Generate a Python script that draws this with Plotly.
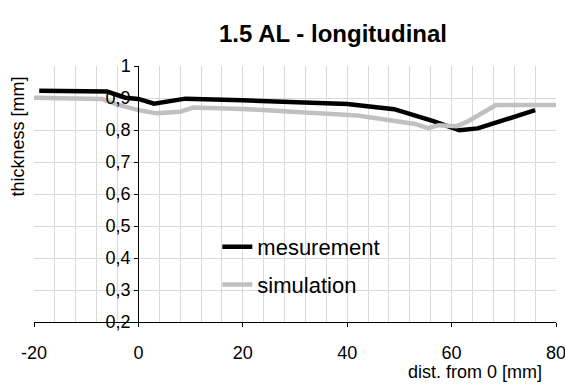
import plotly.graph_objects as go

meas_x = [-19, -6, -2.5, 0, 3, 9, 20, 30, 40, 49, 56.5, 61.5, 65, 76]
meas_y = [0.923, 0.920, 0.901, 0.897, 0.882, 0.898, 0.893, 0.886, 0.881, 0.865, 0.828, 0.799, 0.805, 0.862]

sim_x = [-20, -7, -4, 0, 3.5, 8, 10.5, 20, 32, 42, 53, 55.5, 57.5, 61, 63, 68.5, 80]
sim_y = [0.901, 0.897, 0.879, 0.862, 0.852, 0.857, 0.870, 0.866, 0.855, 0.845, 0.819, 0.806, 0.815, 0.812, 0.826, 0.878, 0.878]

x_ticks = [-20, 0, 20, 40, 60, 80]
x_labels = ["-20", "0", "20", "40", "60", "80"]
y_ticks = [0.2, 0.3, 0.4, 0.5, 0.6, 0.7, 0.8, 0.9, 1.0]
y_labels = ["0,2", "0,3", "0,4", "0,5", "0,6", "0,7", "0,8", "0,9", "1"]

W, H = 565, 389
L, R, T, B = 33.5, 9, 66, 67
pw = W - L - R
ph = H - T - B

FONT = "Liberation Sans, Arial, sans-serif"


def px(xp):
    return (xp - L) / pw


def py(yp):
    return (H - B - yp) / ph


fig = go.Figure()
fig.add_trace(go.Scatter(x=meas_x, y=meas_y, mode="lines", name="mesurement",
                         line=dict(color="#000000", width=4.5), legendgroup="a"))
fig.add_trace(go.Scatter(x=sim_x, y=sim_y, mode="lines", name="simulation",
                         line=dict(color="#c0c0c0", width=4.5), legendgroup="b"))

y_axis_pos = (0 - (-20)) / 100.0

fig.update_layout(
    width=W, height=H,
    margin=dict(l=L, r=R, t=T, b=B, pad=0, autoexpand=False),
    paper_bgcolor="white", plot_bgcolor="white",
    font=dict(family=FONT, size=18, color="black"),
    showlegend=True,
    legend=dict(x=px(217), y=py(226), xanchor="left", yanchor="top",
                bgcolor="rgba(0,0,0,0)", font=dict(size=22, family=FONT),
                tracegroupgap=6, traceorder="grouped", itemwidth=30),
    xaxis=dict(range=[-20, 80], tickvals=x_ticks, ticktext=x_labels, ticks="outside", ticklen=4,
               tickcolor="black", showline=True, linecolor="black", linewidth=1.3,
               showgrid=True, gridcolor="#d9d9d9", gridwidth=1,
               minor=dict(dtick=4, tick0=0, showgrid=True, gridcolor="#d9d9d9", gridwidth=1, ticks=""),
               zeroline=False, ticklabelstandoff=10, ticklabeloverflow="allow",
               automargin=False, tickfont=dict(size=18)),
    yaxis=dict(range=[0.2, 1.0], tickvals=y_ticks, ticktext=y_labels, ticks="outside", ticklen=4,
               tickcolor="black", showline=True, linecolor="black", linewidth=1.3,
               showgrid=True, gridcolor="#d9d9d9", gridwidth=1,
               anchor="free", position=y_axis_pos, ticklabeloverflow="allow",
               automargin=False, zeroline=False, tickfont=dict(size=18)),
)

fig.add_annotation(text="<b>1.5 AL - longitudinal</b>", x=px(333), y=py(33),
                   xref="paper", yref="paper", showarrow=False,
                   xanchor="center", yanchor="middle", font=dict(size=24, family=FONT))
fig.add_annotation(text="dist. from 0 [mm]", x=px(544), y=py(372),
                   xref="paper", yref="paper", showarrow=False,
                   xanchor="right", yanchor="middle", font=dict(size=18, family=FONT))
fig.add_annotation(text="thickness [mm]", x=px(17), y=py(137), textangle=-90,
                   xref="paper", yref="paper", showarrow=False,
                   xanchor="center", yanchor="middle", font=dict(size=18, family=FONT))

fig.write_html("out.html")
